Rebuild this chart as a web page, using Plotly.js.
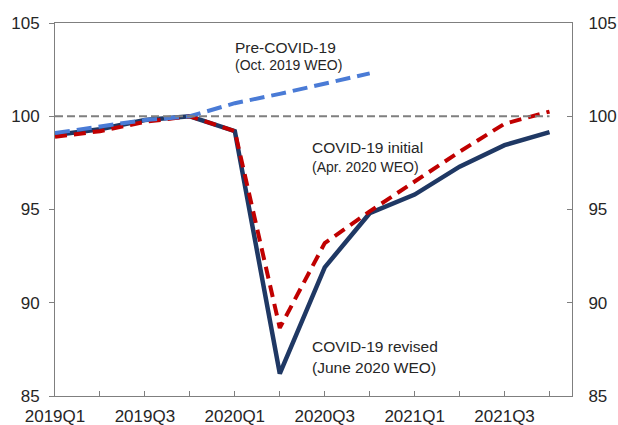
<!DOCTYPE html>
<html>
<head>
<meta charset="utf-8">
<script src="https://cdn.plot.ly/plotly-3.0.1.min.js"></script>
<style>html,body{margin:0;padding:0;background:#fff;}#chart{width:618px;height:425px;}</style>
</head>
<body>
<div id="chart"></div>
<script>
const quarters = ['2019Q1','2019Q2','2019Q3','2019Q4','2020Q1','2020Q2','2020Q3','2020Q4','2021Q1','2021Q2','2021Q3','2021Q4'];
const tickLabels = ['2019Q1','','2019Q3','','2020Q1','','2020Q3','','2021Q1','','2021Q3',''];
const baseline = [100,100,100,100,100,100,100,100,100,100,100,100];
const preCovid = [99.1,99.45,99.8,100.0,100.7,101.2,101.75,102.3];
const covidInitial = [98.9,99.2,99.7,100.0,99.2,88.65,93.2,94.9,96.5,98.1,99.6,100.25];
const covidRevised = [99.0,99.3,99.8,100.0,99.2,86.2,91.9,94.8,95.8,97.3,98.45,99.15];

const traces = [
  {x: quarters, y: baseline, yaxis: 'y2', mode: 'lines', line: {color: '#7f7f7f', width: 2, dash: '8px,4px'}, hoverinfo: 'skip'},
  {x: quarters, y: covidRevised, mode: 'lines', line: {color: '#1f3864', width: 4.5}},
  {x: quarters, y: covidInitial, mode: 'lines', line: {color: '#c00000', width: 4, dash: '12px,7px'}},
  {x: quarters.slice(0, preCovid.length), y: preCovid, mode: 'lines', line: {color: '#4a7bd6', width: 4, dash: '15px,7px'}}
];

const tickFont = {family: 'Liberation Sans, Arial, sans-serif', size: 17, color: '#262626'};
const annFont1 = {family: 'Liberation Sans, Arial, sans-serif', size: 15.5, color: '#262626'};
const annFont2 = {family: 'Liberation Sans, Arial, sans-serif', size: 14, color: '#262626'};

function ann(text, x, y, font) {
  return {text: text, x: x, y: y, xref: 'x', yref: 'y', xanchor: 'left', yanchor: 'middle', showarrow: false, font: font};
}

const layout = {
  width: 618, height: 425,
  margin: {l: 55, r: 46, t: 23, b: 29},
  paper_bgcolor: '#fff', plot_bgcolor: '#fff',
  showlegend: false,
  xaxis: {
    type: 'category', range: [0, 11.5],
    tickmode: 'array', tickvals: quarters, ticktext: tickLabels,
    ticks: 'inside', ticklen: 5, tickcolor: '#7f7f7f', tickwidth: 1,
    showline: true, linecolor: '#7f7f7f', linewidth: 1, mirror: true,
    showgrid: false, zeroline: false, tickfont: tickFont, tickangle: 0,
    ticklabelstandoff: 5
  },
  yaxis: {
    range: [85, 105], tickvals: [85, 90, 95, 100, 105],
    ticks: 'outside', ticklen: 5, tickcolor: '#7f7f7f',
    showline: true, linecolor: '#7f7f7f', linewidth: 1,
    showgrid: false, zeroline: false, tickfont: tickFont, ticklabelstandoff: 6
  },
  yaxis2: {
    overlaying: 'y', side: 'right', range: [85, 105], tickvals: [85, 90, 95, 100, 105],
    ticks: 'inside', ticklen: 5, tickcolor: '#7f7f7f',
    showline: true, linecolor: '#7f7f7f', linewidth: 1,
    showgrid: false, zeroline: false, tickfont: tickFont, ticklabelstandoff: 12
  },
  annotations: [
    ann('Pre-COVID-19', 3.96, 103.71, annFont1),
    ann('(Oct. 2019 WEO)', 3.96, 102.75, annFont2),
    ann('COVID-19 initial', 5.67, 98.35, annFont1),
    ann('(Apr. 2020 WEO)', 5.67, 97.28, annFont2),
    ann('COVID-19 revised', 5.67, 87.63, annFont1),
    ann('(June 2020 WEO)', 5.67, 86.55, annFont1)
  ]
};

Plotly.newPlot('chart', traces, layout, {displayModeBar: false, staticPlot: true});
</script>
</body>
</html>
